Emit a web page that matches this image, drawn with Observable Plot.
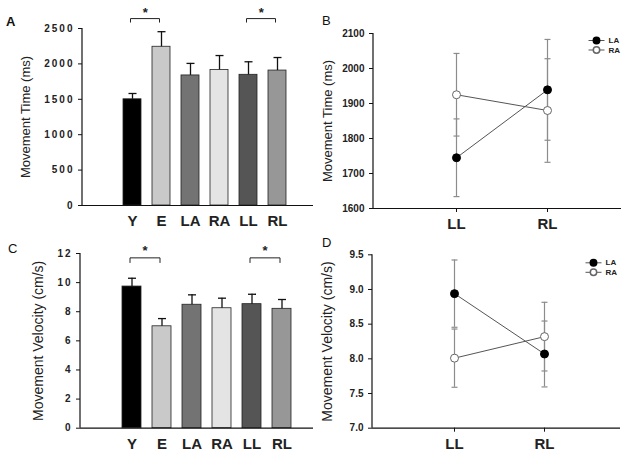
<!DOCTYPE html>
<html><head><meta charset="utf-8">
<script src="https://cdn.jsdelivr.net/npm/d3@7"></script>
<script src="https://cdn.jsdelivr.net/npm/@observablehq/plot@0.6"></script>
<style>
body{margin:0;background:#fff;}
#root{position:relative;width:629px;height:453px;background:#fff;font-family:"Liberation Sans",Arial,sans-serif;overflow:hidden;}
.panel{position:absolute;overflow:visible;}
.plabel{position:absolute;font-size:13px;line-height:13px;color:#111;}
</style></head><body><div id="root"></div>
<script>
// ---- data ----
const groups = ["Y", "E", "LA", "RA", "LL", "RL"];
const barColors = ["#000000", "#c9c9c9", "#737373", "#e4e4e4", "#555555", "#979797"];
const timeMean = [1500, 2242, 1837, 1915, 1846, 1906];
const timeSE = [82, 213, 170, 203, 184, 184];
const velMean = [9.73, 7.00, 8.48, 8.24, 8.52, 8.20];
const velSE = [0.57, 0.53, 0.68, 0.69, 0.68, 0.64];
const sigPairs = [["Y", "E"], ["LL", "RL"]];

const limbs = ["LL", "RL"];
const seriesNames = ["LA", "RA"];
const timeLA = [1745, 1939];
const timeLAse = [111, 144];
const timeRA = [1925, 1880];
const timeRAse = [118, 148];
const velLA = [8.94, 8.07];
const velLAse = [0.485, 0.475];
const velRA = [8.01, 8.32];
const velRAse = [0.42, 0.495];

const timeTicks = [0, 500, 1000, 1500, 2000, 2500];
const velTicks = [0, 2, 4, 6, 8, 10, 12];
const timeTicksB = [1600, 1700, 1800, 1900, 2000, 2100];
const velTicksD = [7.0, 7.5, 8.0, 8.5, 9.0, 9.5];

// ---- helpers ----
const FONT = "Liberation Sans, Arial, sans-serif";
const hline = {draw(ctx, size) { const w = Math.sqrt(size / Math.PI); ctx.moveTo(-w, 0); ctx.lineTo(w, 0); }};
const leftLine = (index, scales, values, dims) => {
  const l = document.createElementNS("http://www.w3.org/2000/svg", "line");
  l.setAttribute("x1", dims.marginLeft); l.setAttribute("x2", dims.marginLeft);
  l.setAttribute("y1", dims.marginTop); l.setAttribute("y2", dims.height - dims.marginBottom);
  l.setAttribute("stroke", "#111"); l.setAttribute("stroke-width", "1.2");
  return l;
};
const root = document.getElementById("root");
function place(svg, left, top) {
  svg.classList.add("panel");
  svg.style.left = left + "px"; svg.style.top = top + "px";
  root.appendChild(svg);
}
function label(t, left, top, bold) {
  const d = document.createElement("div");
  d.className = "plabel"; d.textContent = t;
  d.style.left = left + "px"; d.style.top = top + "px";
  d.style.fontWeight = bold ? "bold" : "normal";
  root.appendChild(d);
}

function barPanel(o) {
  const data = groups.map((g, i) => ({g, v: o.mean[i], e: o.se[i]}));
  const br = [];
  sigPairs.forEach((p, k) => {
    br.push({k, x: p[0], y: o.brLo}, {k, x: p[0], y: o.brHi}, {k, x: p[1], y: o.brHi}, {k, x: p[1], y: o.brLo});
  });
  const svg = Plot.plot({
    width: 315, height: o.height,
    marginLeft: o.ml, marginRight: 2, marginTop: o.mt, marginBottom: o.mb,
    style: {fontFamily: FONT, background: "transparent", overflow: "visible", color: "#222"},
    x: {type: "band", domain: groups, range: o.range, paddingInner: o.pin, paddingOuter: o.pin / 2, align: 0.5},
    y: {domain: o.domain},
    color: {domain: groups, range: barColors},
    marks: [
      Plot.barY(data, {x: "g", y: "v", fill: "g", stroke: "#222", strokeWidth: 0.8}),
      Plot.ruleX(data, {x: "g", y1: "v", y2: d => d.v + d.e, stroke: "#111", strokeWidth: 1.3}),
      Plot.dot(data, {x: "g", y: d => d.v + d.e, symbol: hline, r: 4, stroke: "#111", strokeWidth: 1.3}),
      Plot.line(br, {x: "x", y: "y", z: "k", stroke: "#222", strokeWidth: 1, dx: -2}),
      Plot.text(sigPairs, {x: p => p[0], y: () => o.star, text: () => "*", dx: o.step / 2 - 2, fontSize: 13, fontWeight: "bold", fill: "#222"}),
      Plot.ruleY([o.domain[0]], {stroke: "#111", strokeWidth: 1.2}),
      leftLine,
      Plot.axisY({ticks: o.ticks, tickFormat: "d", tickSize: 4, tickPadding: 4, fontSize: 10, fontWeight: "bold", label: null, stroke: "#111"}),
      Plot.axisX({tickSize: 0, tickPadding: 10, fontSize: 15, fontWeight: "bold", label: null}),
      Plot.text([o.title], {frameAnchor: "left", textAnchor: "middle", lineAnchor: "middle", rotate: -90, dx: o.tdx, fontSize: o.tsize, fill: "#222"})
    ]
  });
  svg.querySelectorAll('g[aria-label="y-axis tick label"] text').forEach(t => t.style.letterSpacing = "2px");
  return svg;
}

function linePanel(o) {
  const rows = [];
  limbs.forEach((x, i) => {
    rows.push({s: "LA", x, v: o.la[i], e: o.laSe[i]});
    rows.push({s: "RA", x, v: o.ra[i], e: o.raSe[i]});
  });
  const legend = [];
  seriesNames.forEach((s, i) => {
    const dy = o.legDy + i * o.legStep;
    legend.push(
      Plot.dot([s], {frameAnchor: "top-right", dx: o.legDx, dy, symbol: hline, r: 8, stroke: "#555", strokeWidth: 1}),
      Plot.dot([s], {frameAnchor: "top-right", dx: o.legDx, dy, r: 3.2, fill: s === "LA" ? "#000" : "#fff", stroke: s === "LA" ? "#000" : "#666"}),
      Plot.text([s], {frameAnchor: "top-right", dx: o.legDx + 12, dy, text: d => d, textAnchor: "start", lineAnchor: "middle", fontSize: 8, fontWeight: "bold", fill: "#222"})
    );
  });
  const svg = Plot.plot({
    width: 314, height: o.height,
    marginLeft: o.ml, marginRight: o.mr, marginTop: o.mt, marginBottom: o.mb,
    style: {fontFamily: FONT, background: "transparent", overflow: "visible", color: "#222"},
    x: {type: "point", domain: limbs, range: o.range, padding: 0},
    y: {domain: o.domain},
    color: {domain: seriesNames, range: ["#000", "#fff"]},
    marks: [
      Plot.ruleX(rows, {x: "x", y1: d => d.v - d.e, y2: d => d.v + d.e, stroke: "#8c8c8c", strokeWidth: 1.2}),
      Plot.dot(rows, {x: "x", y: d => d.v + d.e, symbol: hline, r: 3, stroke: "#8c8c8c", strokeWidth: 1.2}),
      Plot.dot(rows, {x: "x", y: d => d.v - d.e, symbol: hline, r: 3, stroke: "#8c8c8c", strokeWidth: 1.2}),
      Plot.line(rows, {x: "x", y: "v", z: "s", stroke: "#555", strokeWidth: 1}),
      Plot.dot(rows, {x: "x", y: "v", r: 4, fill: "s", stroke: d => d.s === "LA" ? "#000" : "#666", strokeWidth: 1}),
      Plot.ruleY([o.domain[0]], {stroke: "#111", strokeWidth: 1.2}),
      leftLine,
      Plot.axisY({ticks: o.ticks, tickFormat: o.fmt, tickSize: 4, tickPadding: 5, fontSize: 10, fontWeight: "bold", label: null, stroke: "#111"}),
      Plot.axisX({tickSize: 4, tickPadding: 6, fontSize: 15, fontWeight: "bold", label: null, stroke: "#111"}),
      Plot.text([o.title], {frameAnchor: "left", textAnchor: "middle", lineAnchor: "middle", rotate: -90, dx: o.tdx, fontSize: o.tsize, fill: "#222"}),
      ...legend
    ]
  });
  return svg;
}

// Panel A
place(barPanel({
  mean: timeMean, se: timeSE, domain: [0, 2500], ticks: timeTicks, height: 230,
  ml: 82, mt: 28, mb: 25, range: [116.3, 292.7], pin: 0.39, step: 29.4,
  brLo: 2590, brHi: 2640, star: 2720, title: "Movement Time (ms)", tdx: -57, tsize: 13
}), 0, 0);

// Panel B
place(linePanel({
  la: timeLA, laSe: timeLAse, ra: timeRA, raSe: timeRAse, domain: [1600, 2100], ticks: timeTicksB, fmt: "d",
  height: 230, ml: 58, mr: 8, mt: 33, mb: 22, range: [141, 232],
  title: "Movement Time (ms)", tdx: -46, tsize: 13, legDx: -25, legDy: 7, legStep: 9.5
}), 315, 0);

// Panel C
place(barPanel({
  mean: velMean, se: velSE, domain: [0, 12], ticks: velTicks, height: 228,
  ml: 80, mt: 28, mb: 25.3, range: [115.35, 297.15], pin: 0.37, step: 30.3,
  brLo: 11.38, brHi: 11.70, star: 12.2, title: "Movement Velocity (cm/s)", tdx: -42, tsize: 14
}), 0, 225);

// Panel D
place(linePanel({
  la: velLA, laSe: velLAse, ra: velRA, raSe: velRAse, domain: [7.0, 9.5], ticks: velTicksD, fmt: ".1f",
  height: 228, ml: 57, mr: 9, mt: 29.3, mb: 25.3, range: [139, 229],
  title: "Movement Velocity (cm/s)", tdx: -44.5, tsize: 14, legDx: -27, legDy: 8, legStep: 9.5
}), 315, 225);

label("A", 6, 15, true);
label("B", 322, 14, false);
label("C", 8, 242, false);
label("D", 322, 236, false);
</script></body></html>
